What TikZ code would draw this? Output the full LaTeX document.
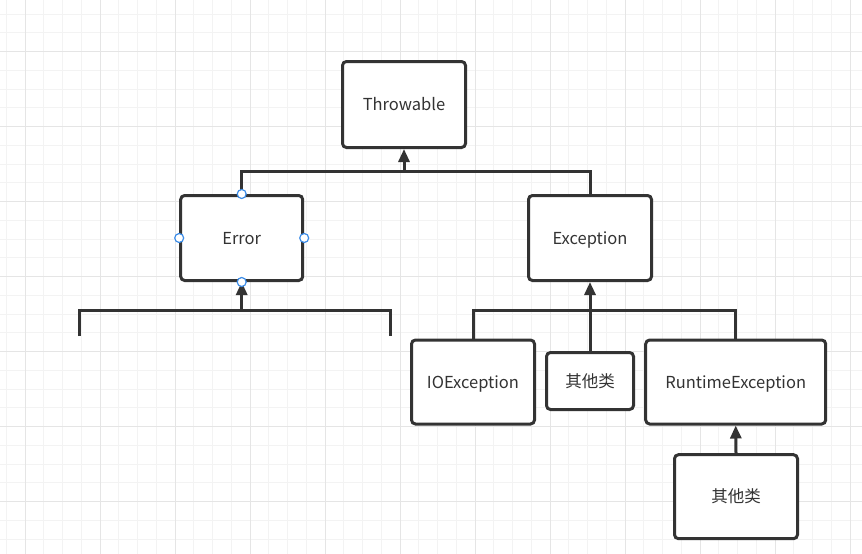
\documentclass[tikz,border=0pt]{standalone}
\usepackage{fontspec}
\newfontfamily\cjk{Noto Sans CJK SC}
\usetikzlibrary{arrows.meta}
\definecolor{ink}{HTML}{333333}
\definecolor{gridminor}{HTML}{F3F3F3}
\definecolor{gridmajor}{HTML}{E5E5E5}
\definecolor{handle}{HTML}{3C8CE7}
\tikzset{
  cls/.style={draw=ink, line width=3pt, rounded corners=4pt, fill=white,
    font=\cjk\fontsize{16.5}{19}\selectfont, text=ink, inner sep=0pt,
    text height=13pt, text depth=1pt},
  conn/.style={draw=ink, line width=3pt},
  inh/.style={conn, -{Triangle[width=11pt,length=13pt]}},
  hdl/.style={circle, draw=handle, fill=white, line width=1.2pt, minimum size=9pt, inner sep=0pt},
}
\begin{document}
\begin{tikzpicture}[x=1pt, y=-1pt]
\useasboundingbox (0,0) rectangle (862,554);
\fill[white] (0,0) rectangle (862,554);
% grid
\foreach \i in {0,...,46} {
  \draw[gridminor, line width=1pt] ({6.25+18.75*\i},0) -- ({6.25+18.75*\i},554);
}
\foreach \i in {0,...,29} {
  \draw[gridminor, line width=1pt] (0,{14.17+18.75*\i}) -- (862,{14.17+18.75*\i});
}
\foreach \i in {0,...,11} {
  \draw[gridmajor, line width=1pt] ({25+75*\i},0) -- ({25+75*\i},554);
}
\foreach \i in {0,...,7} {
  \draw[gridmajor, line width=1pt] (0,{51.67+75*\i}) -- (862,{51.67+75*\i});
}
% nodes
\node[cls, minimum width=123pt, minimum height=86pt] (thr) at (404,104.5) {Throwable};
\node[cls, minimum width=122pt, minimum height=85pt] (err) at (241.7,238) {Error};
\node[cls, minimum width=123pt, minimum height=85pt] (exc) at (590,238) {Exception};
\node[cls, minimum width=123pt, minimum height=84pt] (ioe) at (473,382) {IOException};
\node[cls, minimum width=87pt, minimum height=57pt] (oth1) at (590,381) {其他类};
\node[cls, minimum width=180pt, minimum height=84pt] (rte) at (735.7,382) {RuntimeException};
\node[cls, minimum width=123pt, minimum height=84pt] (oth2) at (736,496.7) {其他类};
% connectors
\coordinate (j1) at (thr.south |- 0,171);
\draw[conn] (err.north) |- (j1) -| (exc.north);
\draw[inh] (j1) -- (thr.south);
\coordinate (l1) at (79,336);
\coordinate (l2) at (390,336);
\coordinate (j2) at (err.south |- 0,310.7);
\draw[conn] (l1) |- (j2) -| (l2);
\draw[inh] (j2) -- (err.south);
\coordinate (j3) at (exc.south |- 0,310.7);
\draw[conn] (ioe.north) |- (j3) -| (rte.north);
\draw[inh] (oth1.north) -- (exc.south);
\draw[inh] (oth2.north) -- (rte.south);
% selection handles on Error
\node[hdl] (hn) at (err.north) {};
\node[hdl] (hs) at (err.south) {};
\node[hdl] (hw) at (err.west) {};
\node[hdl] (he) at (err.east) {};
\end{tikzpicture}
\end{document}
